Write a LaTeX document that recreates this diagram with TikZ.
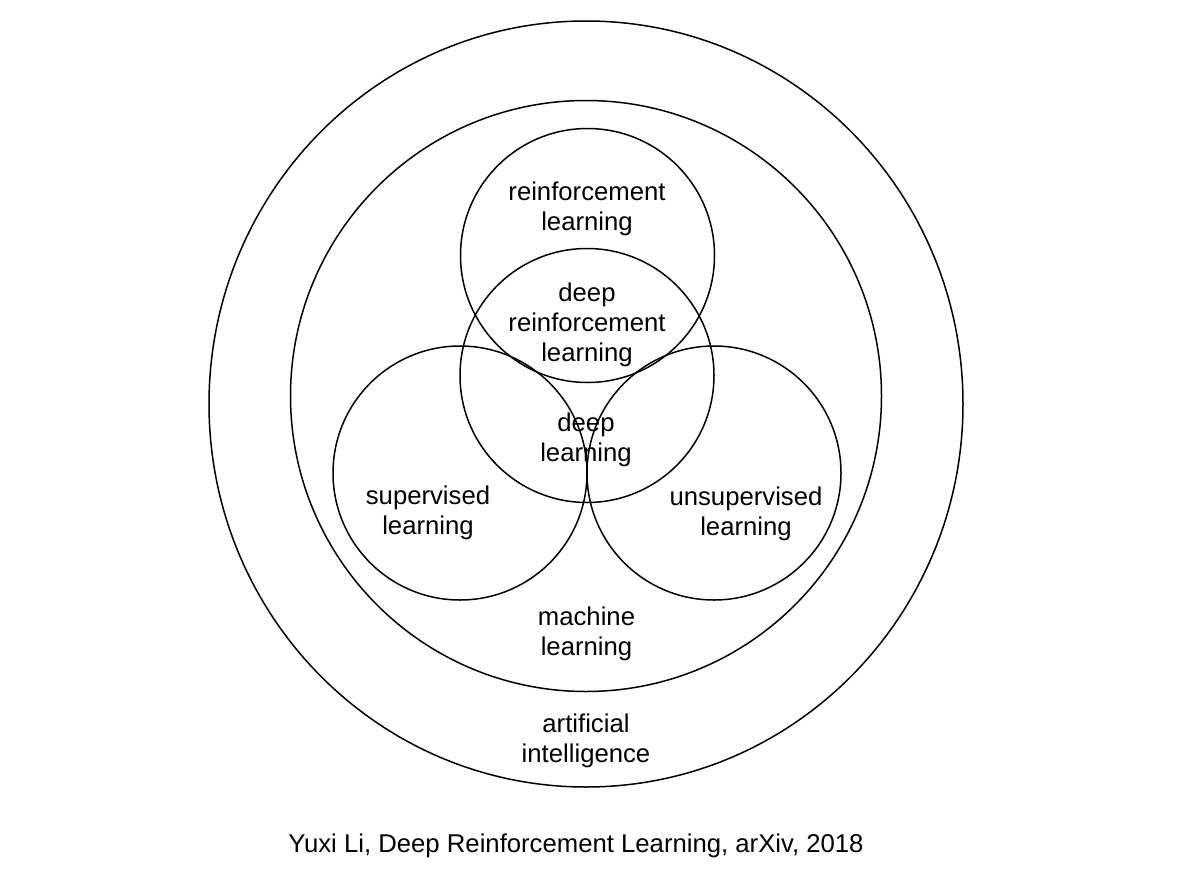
\documentclass[tikz,border=0pt]{standalone}
\usepackage{fontspec}
\setmainfont{Liberation Sans}
\usetikzlibrary{shapes.geometric}
\tikzset{
x=0.5pt, y=-0.5pt, % one unit is one pixel of the reference, y runs down
ring/.style={draw, circle, line width=0.75pt, inner sep=0pt}, % the field circles
field/.style={ring, minimum size=127pt}, % the small circles
tag/.style={align=center, font=\fontsize{12.85}{15}\selectfont}, % the labels
}
\begin{document}
\begin{tikzpicture}
    \useasboundingbox (0,0) rectangle (1190,873);
    \node[ring, ellipse, minimum width=377pt, minimum height=383pt] (ai) at (586,404) {};
    \node[ring, minimum size=295.5pt] (ml) at (586,396) {};
    \node[field] (rl) at (587.5,255.5) {};
    \node[field] (dl) at (587,375.5) {};
    \node[field] (sl) at (460,473) {};
    \node[field] (ul) at (714,473) {};
    \node[tag] (rltext) at (587,209) {reinforcement\\learning};
    \node[tag] (drltext) at (587,325) {deep\\reinforcement\\learning};
    \node[tag] (dltext) at (586,440) {deep\\learning};
    \node[tag] (sltext) at (428,513) {supervised\\learning};
    \node[tag] (ultext) at (746,514) {unsupervised\\learning};
    \node[tag] (mltext) at (586.5,634) {machine\\learning};
    \node[tag] (aitext) at (586,741) {artificial\\intelligence};
    \node[tag] (caption) at (576,846) {Yuxi Li, Deep Reinforcement Learning, arXiv, 2018};
  \end{tikzpicture}
\end{document}
